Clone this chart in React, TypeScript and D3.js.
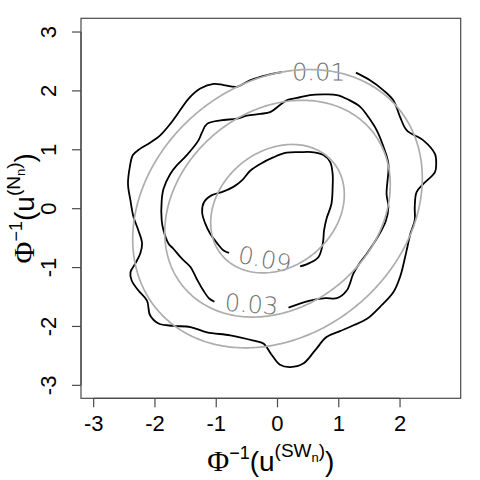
import React from "react";
import * as d3 from "d3";

// ---- data ----
const X_TICKS = [-3, -2, -1, 0, 1, 2];
const Y_TICKS = [-3, -2, -1, 0, 1, 2, 3];
const CONTOUR_LABELS = ["0.01", "0.03", "0.09"];
const THEORY_LEVELS = [0.01, 0.03, 0.09];
const THEORY_RHO = 0.22;

// empirical contour at level 0.01 (black, open at its label)
const EMP_001: [number, number][] = [
  [1.28, 2.31], [1.51, 2.18], [1.73, 2.01], [1.89, 1.84], [2.0, 1.56], [2.11, 1.33],
  [2.38, 1.16], [2.57, 0.93], [2.59, 0.76], [2.57, 0.62], [2.38, 0.42], [2.27, 0.28],
  [2.24, 0.03], [2.24, -0.2], [2.17, -0.42], [2.12, -0.65], [2.07, -0.88], [2.0, -1.16],
  [1.89, -1.42], [1.67, -1.67], [1.46, -1.87], [1.24, -1.98], [1.02, -2.08], [0.8, -2.18],
  [0.61, -2.41], [0.42, -2.63], [0.21, -2.69], [0.04, -2.65], [-0.09, -2.49], [-0.23, -2.29],
  [-0.39, -2.24], [-0.77, -2.15], [-1.15, -2.1], [-1.42, -2.01], [-1.7, -1.99], [-1.94, -1.95],
  [-2.08, -1.81], [-2.13, -1.56], [-2.27, -1.39], [-2.38, -1.22], [-2.4, -1.08], [-2.32, -0.93],
  [-2.24, -0.76], [-2.21, -0.59], [-2.27, -0.37], [-2.35, -0.14], [-2.4, 0.14], [-2.44, 0.42],
  [-2.41, 0.71], [-2.36, 0.91], [-2.24, 1.02], [-2.08, 1.12], [-1.91, 1.25], [-1.75, 1.44],
  [-1.59, 1.67], [-1.45, 1.87], [-1.26, 2.04], [-1.04, 2.12], [-0.88, 2.1], [-0.66, 2.07],
  [-0.45, 2.18], [-0.17, 2.27], [0.07, 2.32],
];

// empirical contour at level 0.03
const EMP_003: [number, number][] = [
  [0.18, -1.68], [0.53, -1.56], [0.78, -1.52], [0.97, -1.52], [1.13, -1.39], [1.24, -1.1],
  [1.35, -0.91], [1.46, -0.76], [1.67, -0.42], [1.77, -0.2], [1.81, 0.03], [1.78, 0.25],
  [1.81, 0.76], [1.73, 1.05], [1.62, 1.33], [1.48, 1.56], [1.35, 1.73], [1.16, 1.85],
  [0.97, 1.93], [0.75, 1.94], [0.53, 1.93], [0.32, 1.88], [0.15, 1.84], [0.04, 1.76],
  [-0.12, 1.64], [-0.28, 1.61], [-0.5, 1.58], [-0.66, 1.53], [-0.93, 1.5], [-1.15, 1.44],
  [-1.23, 1.3], [-1.29, 1.16], [-1.48, 0.91], [-1.64, 0.74], [-1.75, 0.59], [-1.86, 0.34],
  [-1.89, 0.14], [-1.89, -0.2], [-1.86, -0.37], [-1.78, -0.59], [-1.7, -0.68], [-1.56, -0.85],
  [-1.42, -0.99], [-1.32, -1.19], [-1.21, -1.39], [-1.11, -1.53], [-1.03, -1.58],
];

// empirical contour at level 0.09
const EMP_009: [number, number][] = [
  [0.37, -0.98], [0.53, -0.92], [0.67, -0.82], [0.74, -0.59], [0.76, -0.37], [0.8, -0.17],
  [0.88, 0.08], [0.9, 0.37], [0.9, 0.59], [0.86, 0.79], [0.75, 0.91], [0.56, 0.96],
  [0.37, 0.96], [0.15, 0.95], [-0.07, 0.87], [-0.28, 0.76], [-0.45, 0.64], [-0.58, 0.48],
  [-0.72, 0.37], [-0.91, 0.28], [-1.07, 0.23], [-1.2, 0.11], [-1.23, -0.06], [-1.18, -0.25],
  [-1.1, -0.42], [-0.99, -0.58], [-0.88, -0.71], [-0.79, -0.75],
];

const EMPIRICAL = [EMP_001, EMP_003, EMP_009];

// ---- layout ----
const W = 480, H = 480;
const L = 81, R = 460.7, T = 18.3, B = 398.3;
const X_DOMAIN: [number, number] = [-3.207, 2.99];
const Y_DOMAIN: [number, number] = [-3.22, 3.233];

export default function App() {
  const xs = d3.scaleLinear().domain(X_DOMAIN).range([L, R]);
  const ys = d3.scaleLinear().domain(Y_DOMAIN).range([B, T]);

  const line = d3
    .line<[number, number]>()
    .x((d) => xs(d[0]))
    .y((d) => ys(d[1]))
    .curve(d3.curveCatmullRom.alpha(0.5));

  // theoretical (normal) contours via d3.contours
  const g0 = -4, step = 0.04, n = 201;
  const vals = new Array(n * n);
  const k = 1 / (2 * Math.PI * Math.sqrt(1 - THEORY_RHO * THEORY_RHO));
  for (let j = 0; j < n; j++) {
    for (let i = 0; i < n; i++) {
      const x = g0 + i * step, y = g0 + j * step;
      const q = (x * x - 2 * THEORY_RHO * x * y + y * y) / (1 - THEORY_RHO * THEORY_RHO);
      vals[j * n + i] = k * Math.exp(-q / 2);
    }
  }
  const cont = d3.contours().size([n, n]).thresholds(THEORY_LEVELS)(vals);
  const ring = d3
    .line<[number, number]>()
    .x((p) => xs(g0 + (p[0] - 0.5) * step))
    .y((p) => ys(g0 + (p[1] - 0.5) * step))
    .curve(d3.curveLinearClosed);
  const grayPaths: string[] = [];
  cont.forEach((c) =>
    c.coordinates.forEach((poly) => poly.forEach((r) => grayPaths.push(ring(r as any) || "")))
  );

  const labels = EMPIRICAL.map((pts, i) => {
    const a = pts[pts.length - 1], b = pts[0];
    const x1 = xs(a[0]), y1 = ys(a[1]), x2 = xs(b[0]), y2 = ys(b[1]);
    let ang = (Math.atan2(y2 - y1, x2 - x1) * 180) / Math.PI;
    if (ang > 90) ang -= 180;
    if (ang < -90) ang += 180;
    return { x: (x1 + x2) / 2, y: (y1 + y2) / 2, ang, text: CONTOUR_LABELS[i] };
  });

  const sans = "'Liberation Sans', Arial, Helvetica, sans-serif";

  return (
    <svg width={W} height={H} style={{ position: "absolute", left: 0, top: 0 }}>
      <rect x={0} y={0} width={W} height={H} fill="#fff" />
      <defs>
        <clipPath id="plotclip">
          <rect x={L} y={T} width={R - L} height={B - T} />
        </clipPath>
      </defs>
      <g clipPath="url(#plotclip)">
        {EMPIRICAL.map((pts, i) => (
          <path key={i} d={line(pts) || ""} fill="none" stroke="#000" strokeWidth={1.8} />
        ))}
        {labels.map((l, i) => (
          <text
            key={i}
            x={l.x}
            y={l.y}
            transform={`rotate(${l.ang} ${l.x} ${l.y})`}
            textAnchor="middle"
            dominantBaseline="central"
            fontFamily="'DejaVu Sans', sans-serif"
            fontWeight={200}
            fontSize={24}
            fill="#707070"
          >
            {l.text}
          </text>
        ))}
        {grayPaths.map((d, i) => (
          <path key={i} d={d} fill="none" stroke="#adadad" strokeWidth={1.7} />
        ))}
      </g>
      <rect x={L} y={T} width={R - L} height={B - T} fill="none" stroke="#4a4a4a" strokeWidth={1.2} />
      {/* x axis */}
      <line x1={xs(X_TICKS[0])} x2={xs(X_TICKS[X_TICKS.length - 1])} y1={B} y2={B} stroke="#4a4a4a" strokeWidth={1.2} />
      {X_TICKS.map((t) => (
        <g key={t}>
          <line x1={xs(t)} x2={xs(t)} y1={B} y2={B + 9} stroke="#4a4a4a" strokeWidth={1.2} />
          <text x={xs(t)} y={B + 33} textAnchor="middle" fontFamily={sans} fontSize={22} fill="#000">
            {t}
          </text>
        </g>
      ))}
      {/* y axis */}
      <line x1={L} x2={L} y1={ys(Y_TICKS[0])} y2={ys(Y_TICKS[Y_TICKS.length - 1])} stroke="#4a4a4a" strokeWidth={1.2} />
      {Y_TICKS.map((t) => (
        <g key={t}>
          <line x1={L} x2={L - 9} y1={ys(t)} y2={ys(t)} stroke="#4a4a4a" strokeWidth={1.2} />
          <text
            x={56}
            y={ys(t)}
            transform={`rotate(-90 56 ${ys(t)})`}
            textAnchor="middle"
            fontFamily={sans}
            fontSize={22}
            fill="#000"
          >
            {t}
          </text>
        </g>
      ))}
      {/* x title */}
      <text x={(L + R) / 2} y={471} textAnchor="middle" fontFamily={sans} fontSize={28} fill="#000">
        <tspan fontFamily="'Liberation Serif', serif" fontSize={30}>Φ</tspan>
        <tspan fontSize={18} dy={-12}>−1</tspan>
        <tspan dy={12}>(u</tspan>
        <tspan fontSize={19} dy={-14}>(SW</tspan>
        <tspan fontSize={13} dy={5}>n</tspan>
        <tspan fontSize={19} dy={-5}>)</tspan>
        <tspan dy={14}>)</tspan>
      </text>
      {/* y title */}
      <text
        x={34}
        y={(T + B) / 2}
        transform={`rotate(-90 34 ${(T + B) / 2})`}
        textAnchor="middle"
        fontFamily={sans}
        fontSize={28}
        fill="#000"
      >
        <tspan fontFamily="'Liberation Serif', serif" fontSize={30}>Φ</tspan>
        <tspan fontSize={18} dy={-12}>−1</tspan>
        <tspan dy={12}>(u</tspan>
        <tspan fontSize={19} dy={-14}>(N</tspan>
        <tspan fontSize={13} dy={5}>n</tspan>
        <tspan fontSize={19} dy={-5}>)</tspan>
        <tspan dy={14}>)</tspan>
      </text>
    </svg>
  );
}
